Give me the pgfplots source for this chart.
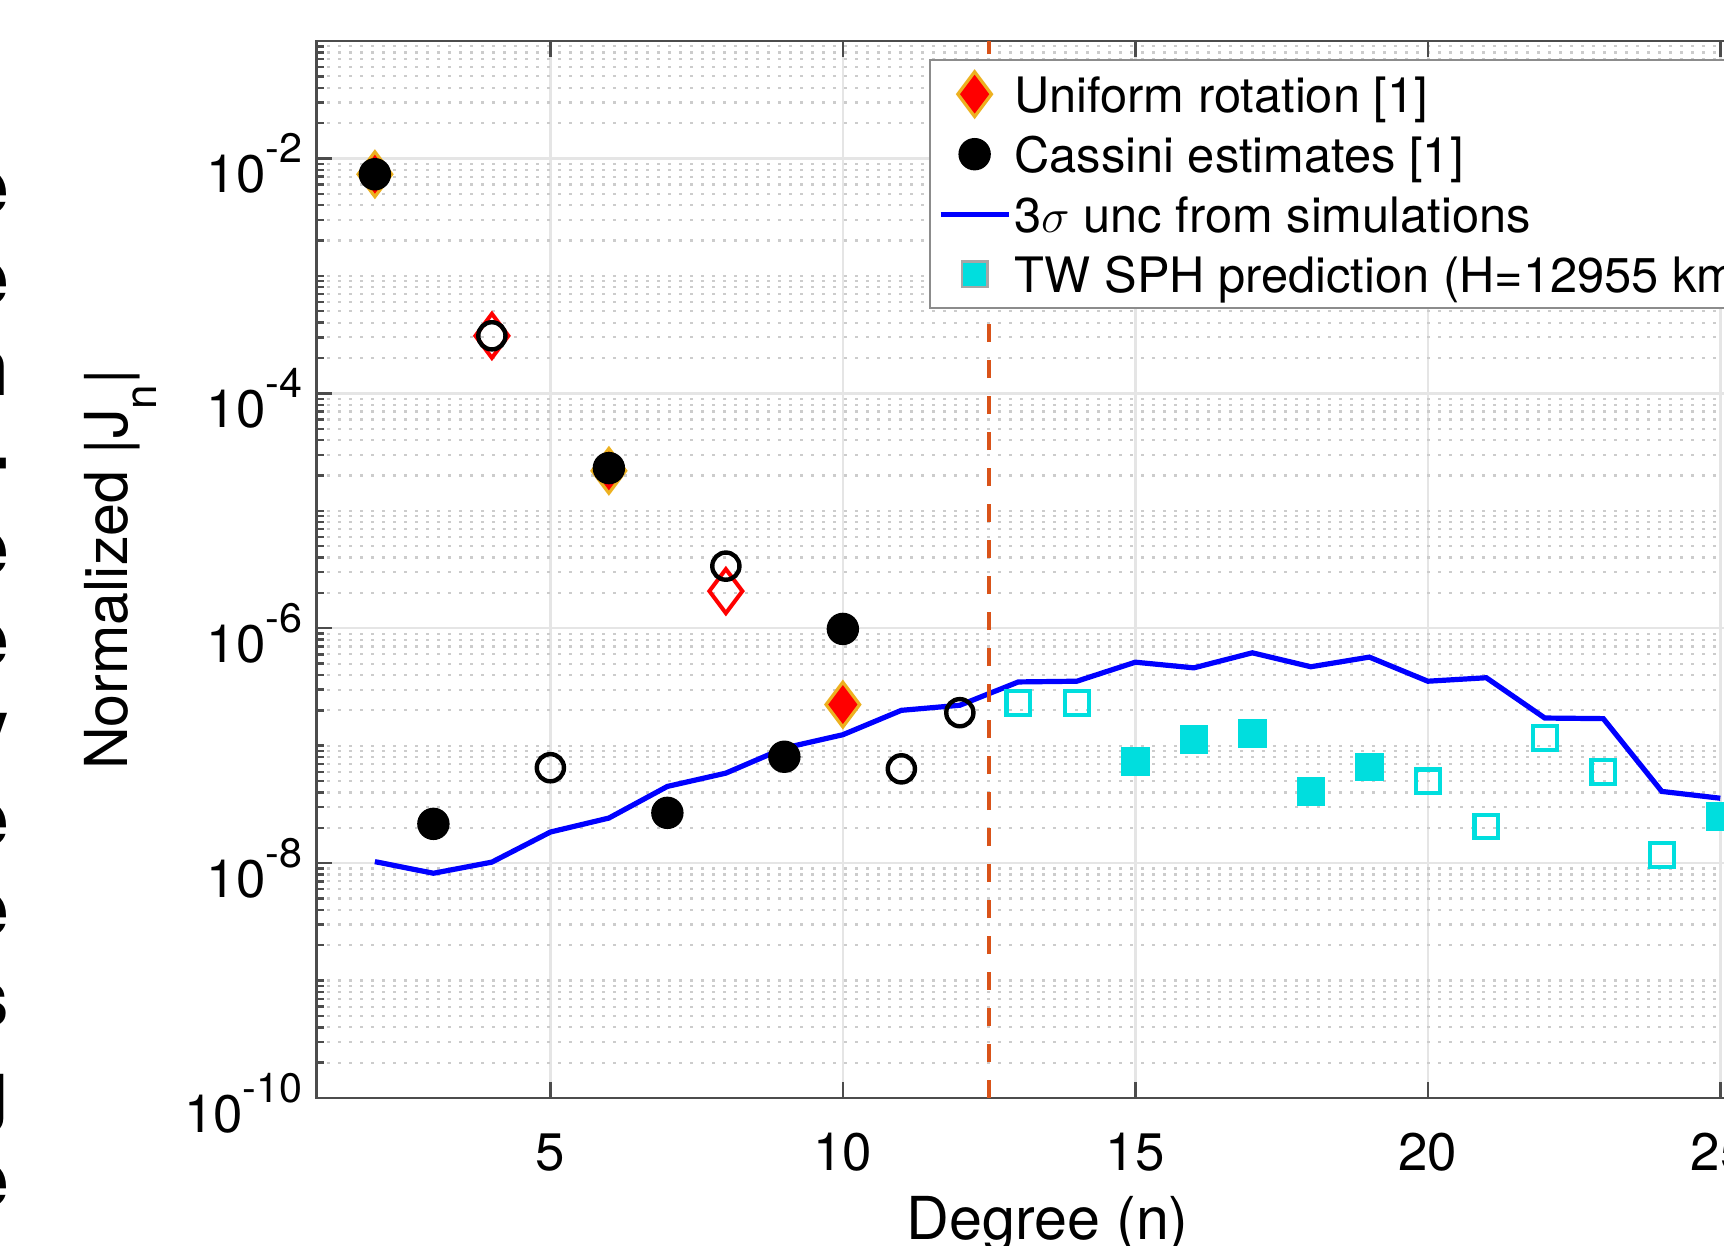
\documentclass[border=0pt]{standalone}
\usepackage{fontspec}
\setmainfont{TeX Gyre Heros}
\usepackage{pgfplots}
\pgfplotsset{compat=1.18}
\definecolor{redge}{rgb}{0.929,0.694,0.125}
\definecolor{tcyan}{rgb}{0,0.87,0.87}
\definecolor{vline}{rgb}{0.851,0.325,0.098}
\newcommand\tp[1]{10\raisebox{7.5pt}{\fontsize{10.3}{10}\selectfont -#1}}
\begin{document}
\begin{tikzpicture}
\begin{scope}
\clip (-79.1pt,-36.75pt) rectangle (351.9pt,274.5pt);
\foreach \l [count=\k from 0] in {e,e,n,-,e,e,y,e,e,s,g,e}
  \node[anchor=base east, inner sep=0pt, font=\fontsize{20}{22}\selectfont\bfseries] at (-76.6pt,{220.75pt-22.55pt*\k}) {\l};
\begin{axis}[
  at={(0,0)}, anchor=south west,
  scale only axis, width=365.6pt, height=264.25pt,
  xmin=1, xmax=26, ymin=1e-10, ymax=1e-1, ymode=log,
  axis line style={black!70, line width=0.7pt},
  tick style={black!70, line width=0.6pt},
  tick align=inside, xtick pos=both, ytick pos=both,
  major tick length=4pt, minor tick length=2pt,
  xtick={5,10,15,20,25}, xticklabels={5,10,15,20,25},
  ytick={1e-10,1e-8,1e-6,1e-4,1e-2},
  yticklabels={\tp{10},\tp{8},\tp{6},\tp{4},\tp{2}},
  minor ytick={2e-10,3e-10,4e-10,5e-10,6e-10,7e-10,8e-10,9e-10,1e-9,2e-9,3e-9,4e-9,5e-9,6e-9,7e-9,8e-9,9e-9,2e-8,3e-8,4e-8,5e-8,6e-8,7e-8,8e-8,9e-8,1e-7,2e-7,3e-7,4e-7,5e-7,6e-7,7e-7,8e-7,9e-7,2e-6,3e-6,4e-6,5e-6,6e-6,7e-6,8e-6,9e-6,1e-5,2e-5,3e-5,4e-5,5e-5,6e-5,7e-5,8e-5,9e-5,2e-4,3e-4,4e-4,5e-4,6e-4,7e-4,8e-4,9e-4,1e-3,2e-3,3e-3,4e-3,5e-3,6e-3,7e-3,8e-3,9e-3,2e-2,3e-2,4e-2,5e-2,6e-2,7e-2,8e-2,9e-2},
  xmajorgrids, ymajorgrids, yminorgrids,
  major grid style={black!10, line width=0.6pt},
  minor grid style={black!20, line width=0.55pt, dash pattern=on 0.55pt off 2.2pt},
  ticklabel style={font=\fontsize{13.2}{14}\selectfont},
  xticklabel style={anchor=base, yshift=-18pt},
  yticklabel style={yshift=-1.2pt},
  xlabel={Degree (n)},
  xlabel style={at={(axis description cs:0.5,-0.1343)}, anchor=base, font=\fontsize{14.8}{16}\selectfont},
  ylabel={Normalized |J\raisebox{-7.25pt}{\fontsize{11}{11}\selectfont n}|},
  ylabel style={at={(axis description cs:-0.1289,0.5)}, anchor=base, font=\fontsize{14.8}{16}\selectfont},
  legend image code/.code={\draw[mark repeat=2,mark phase=2,#1] plot coordinates {(0pt,0pt)(8.5pt,0pt)(17pt,0pt)};},
  legend style={at={(axis description cs:0.4188,0.983)}, anchor=north west, draw=black!45, line width=0.6pt,
    font=\fontsize{12.2}{13}\selectfont, inner xsep=2pt, inner ysep=1pt, row sep=0pt, column sep=0pt,
    nodes={inner sep=2pt, inner xsep=0.8pt, text height=10pt, text depth=1pt}},
  legend cell align=left,
]
\addlegendimage{only marks, mark=diamond*, mark size=5.6pt, mark options={draw=redge, fill=red, line width=0.8pt}}
\addlegendentry{Uniform rotation [1]}
\addlegendimage{only marks, mark=*, mark size=3.75pt, mark options={draw=black, fill=black}}
\addlegendentry{Cassini estimates [1]}
\addlegendimage{blue, line width=1.3pt}
\addlegendentry{3$\sigma$ unc from simulations}
\addlegendimage{only marks, mark=square*, mark size=3.2pt, mark options={draw=black!35, fill=tcyan, line width=0.6pt}}
\addlegendentry{TW SPH prediction (H=12955 km)}

% Uniform rotation
\addplot[only marks, mark=diamond*, mark size=5.6pt, mark options={draw=redge, fill=red, line width=0.8pt}, forget plot]
  coordinates {(2,7.34e-3)(6,2.19e-5)(10,2.24e-7)};
\addplot[only marks, mark=diamond, mark size=5.5pt, mark options={draw=red, line width=1pt}, forget plot]
  coordinates {(4,3.09e-4)(8,2.07e-6)};
% Cassini
\addplot[only marks, mark=*, mark size=3.85pt, mark options={draw=black, fill=black}, forget plot]
  coordinates {(2,7.34e-3)(3,2.16e-8)(6,2.31e-5)(7,2.68e-8)(9,8.05e-8)(10,9.87e-7)};
\addplot[only marks, mark=o, mark size=3.4pt, mark options={draw=black, line width=1.1pt}, forget plot]
  coordinates {(4,3.09e-4)(5,6.49e-8)(8,3.38e-6)(11,6.35e-8)(12,1.91e-7)};
% 3 sigma
\addplot[blue, line width=1.3pt, forget plot] coordinates {
(2,1.03e-8)(3,8.2e-9)(4,1.02e-8)(5,1.84e-8)(6,2.42e-8)(7,4.50e-8)(8,5.84e-8)(9,9.55e-8)
(10,1.24e-7)(11,2.00e-7)(12,2.21e-7)(13,3.49e-7)(14,3.54e-7)(15,5.14e-7)(16,4.60e-7)
(17,6.18e-7)(18,4.70e-7)(19,5.68e-7)(20,3.54e-7)(21,3.79e-7)(22,1.72e-7)(23,1.70e-7)
(24,4.08e-8)(25,3.57e-8)};
% TW SPH
\addplot[only marks, mark=square*, mark size=3.35pt, mark options={draw=tcyan, fill=tcyan}, forget plot]
  coordinates {(15,7.36e-8)(16,1.13e-7)(17,1.27e-7)(18,4.08e-8)(19,6.58e-8)(25,2.50e-8)};
\addplot[only marks, mark=square, mark size=2.95pt, mark options={draw=tcyan, line width=1.05pt}, forget plot]
  coordinates {(13,2.31e-7)(14,2.31e-7)(20,4.97e-8)(21,2.05e-8)(22,1.16e-7)(23,5.97e-8)(24,1.17e-8)};
% divider
\addplot[vline, line width=1pt, dash pattern=on 4.6pt off 4.4pt, forget plot]
  coordinates {(12.5,1e-10)(12.5,1e-1)};
\end{axis}
\end{scope}
\pgfresetboundingbox
\useasboundingbox (-79.1pt,-36.75pt) rectangle (351.9pt,274.5pt);
\end{tikzpicture}
\end{document}
